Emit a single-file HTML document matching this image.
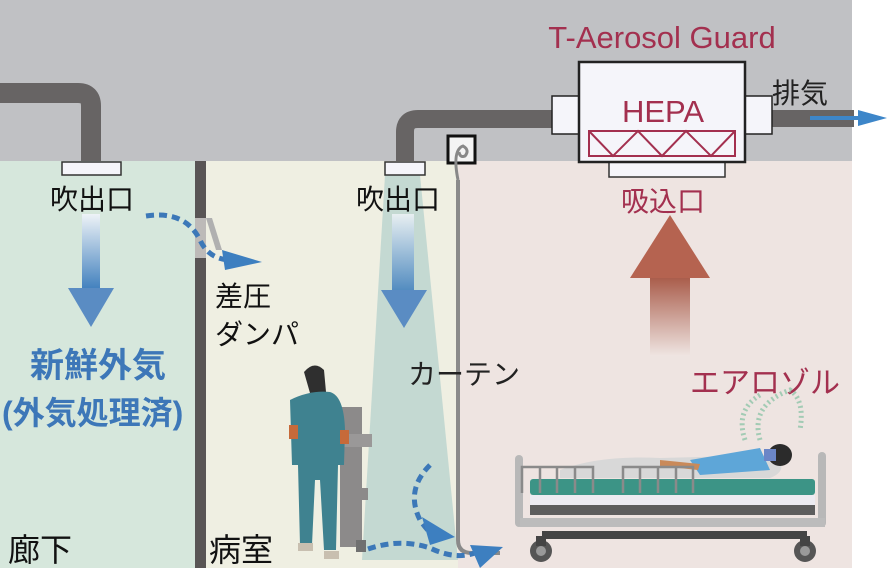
<!DOCTYPE html>
<html><head><meta charset="utf-8"><style>
html,body{margin:0;padding:0;background:#fff}
svg{display:block}
text{font-family:"Liberation Sans","Noto Sans CJK JP",sans-serif}
</style></head><body>
<svg width="887" height="570" viewBox="0 0 887 570" xmlns="http://www.w3.org/2000/svg">
<defs>
<linearGradient id="bl" x1="0" y1="0" x2="0" y2="1"><stop offset="0" stop-color="#eef3f7"/><stop offset="1" stop-color="#3f7fbd"/></linearGradient>
<linearGradient id="rd" x1="0" y1="1" x2="0" y2="0"><stop offset="0" stop-color="#efe5e2"/><stop offset="1" stop-color="#a85a48"/></linearGradient>
</defs>
<rect x="0" y="0" width="852" height="161" fill="#c0c1c4"/>
<rect x="0" y="161" width="195" height="407" fill="#d6e7dc"/>
<rect x="206" y="161" width="252" height="407" fill="#efefe2"/>
<rect x="458" y="161" width="394" height="407" fill="#eee4e1"/>
<rect x="195" y="161" width="11" height="407" fill="#595555"/>
<rect x="195" y="218" width="11" height="40" fill="#bdbab8"/>
<polygon points="206,218 212,218 222,250 216,250" fill="#b0b0b0"/>
<path d="M0,93 H78 Q91,93 91,106 V161" fill="none" stroke="#676464" stroke-width="20"/>
<rect x="62" y="162" width="59" height="13" fill="#f5f5fa" stroke="#333" stroke-width="1.5"/>
<path d="M405,161 V132 Q405,119 418,119 H560" fill="none" stroke="#676464" stroke-width="18"/>
<polygon points="385,175 420,175 458,560 362,560" fill="#bcd5cf" opacity="0.85"/>
<rect x="385" y="162" width="40" height="13" fill="#f5f5fa" stroke="#333" stroke-width="1.5"/>
<rect x="770" y="110" width="84" height="17" fill="#676464"/>
<line x1="810" y1="118" x2="870" y2="118" stroke="#3d86c9" stroke-width="4"/>
<polygon points="858,110 887,118 858,126" fill="#3d86c9"/>
<rect x="552" y="96" width="27" height="38" fill="#f5f5fa" stroke="#222" stroke-width="1.5"/>
<rect x="745" y="96" width="27" height="38" fill="#f5f5fa" stroke="#222" stroke-width="1.5"/>
<rect x="609" y="161" width="116" height="16" fill="#f5f5fa" stroke="#333" stroke-width="1.5"/>
<rect x="579" y="62" width="166" height="100" fill="#f5f5fa" stroke="#222" stroke-width="2.5"/>
<rect x="589" y="131" width="146" height="25" fill="none" stroke="#a3304f" stroke-width="2"/>
<polyline points="589,131 613,156 638,131 662,156 686,131 711,156 735,131" fill="none" stroke="#a3304f" stroke-width="2"/>
<text x="663" y="122" font-size="31" fill="#a3304f" text-anchor="middle">HEPA</text>
<text x="662" y="48" font-size="31" fill="#a3304f" text-anchor="middle">T-Aerosol Guard</text>
<text x="772" y="103" font-size="28" fill="#222">排気</text>
<text x="663" y="211" font-size="28" fill="#a3304f" text-anchor="middle">吸込口</text>
<rect x="448" y="136" width="27" height="27" fill="#f4f4f4" stroke="#111" stroke-width="3"/>
<path d="M458,180 Q452,150 463,146 Q470,150 465,156 Q460,158 459,152" fill="none" stroke="#888" stroke-width="3"/>
<path d="M458,180 V540 Q458,553 472,553 H500" fill="none" stroke="#8a8a8a" stroke-width="4"/>
<text x="50" y="209" font-size="28" fill="#111">吹出口</text>
<text x="356" y="209" font-size="28" fill="#111">吹出口</text>
<text x="215" y="306" font-size="28" fill="#111">差圧</text>
<text x="215" y="344" font-size="28" fill="#111">ダンパ</text>
<text x="408" y="384" font-size="28" fill="#222">カーテン</text>
<text x="690" y="393" font-size="30" fill="#a3304f">エアロゾル</text>
<text x="30" y="377" font-size="34" font-weight="bold" fill="#3d77b8">新鮮外気</text>
<text x="2" y="424" font-size="32" font-weight="bold" fill="#3d77b8">(外気処理済)</text>
<text x="8" y="561" font-size="32" fill="#111">廊下</text>
<text x="209" y="561" font-size="32" fill="#111">病室</text>
<rect x="82" y="214" width="18" height="76" fill="url(#bl)"/>
<polygon points="68,288 114,288 91,327" fill="#5a8cc3"/>
<rect x="392" y="214" width="22" height="76" fill="url(#bl)" opacity="0.85"/>
<polygon points="381,290 427,290 404,328" fill="#5a8cc3"/>
<rect x="650" y="276" width="40" height="80" fill="url(#rd)"/>
<polygon points="670,215 710,278 630,278" fill="#b56350"/>
<path d="M146,216 Q185,210 200,240 Q208,258 228,260" fill="none" stroke="#3c78b8" stroke-width="5" stroke-dasharray="8,5"/>
<polygon points="222,250 262,262 225,270" fill="#3d7fc0"/>
<path d="M430,465 Q405,490 420,520 Q430,535 440,540" fill="none" stroke="#3c78b8" stroke-width="5" stroke-dasharray="8,5"/>
<polygon points="422,517 455,537 430,545" fill="#3d7fc0"/>
<path d="M368,549 Q400,538 430,548 Q455,560 475,553" fill="none" stroke="#3c78b8" stroke-width="5" stroke-dasharray="8,5"/>
<polygon points="470,545 503,547 480,568" fill="#3d7fc0"/>
<rect x="340" y="407" width="22" height="140" fill="#8c8a8a"/>
<rect x="340" y="434" width="32" height="13" fill="#9a9898"/>
<rect x="356" y="488" width="12" height="12" fill="#8c8a8a"/>
<rect x="356" y="540" width="10" height="12" fill="#707070"/>
<path d="M304,372 Q314,360 324,370 L326,392 L310,393 Z" fill="#2f2f2f"/>
<path d="M290,400 Q310,390 330,392 Q344,396 345,430 L344,465 L338,465 L336,550 L324,550 L320,480 L315,480 L312,545 L300,545 L298,465 L292,465 Z" fill="#3f8290"/>
<rect x="289" y="425" width="9" height="14" fill="#c66a3a"/>
<rect x="340" y="430" width="9" height="14" fill="#c66a3a"/>
<rect x="298" y="543" width="15" height="8" fill="#c8bfb0"/>
<rect x="324" y="551" width="15" height="8" fill="#c8bfb0"/>
<path d="M745,440 Q735,410 760,395 M760,440 Q750,405 790,390 Q805,400 800,430" fill="none" stroke="#8fc4a9" stroke-width="5" stroke-dasharray="2,3" opacity="0.8"/>
<rect x="515" y="455" width="8" height="72" rx="4" fill="#b8b8b8"/>
<rect x="818" y="452" width="8" height="75" rx="4" fill="#b8b8b8"/>
<path d="M560,470 Q600,455 660,458 L775,455 Q790,470 770,478 L560,478 Z" fill="#d8d8d8"/>
<path d="M690,460 L760,448 L770,470 L700,475 Z" fill="#5ea6d8"/>
<path d="M660,460 L700,464 L698,470 L660,466 Z" fill="#c98a5a"/>
<ellipse cx="780" cy="455" rx="12" ry="11" fill="#2b2b2b"/>
<rect x="764" y="449" width="12" height="12" fill="#6b86c7"/>
<rect x="530" y="479" width="285" height="16" rx="3" fill="#3c9486"/>
<rect x="530" y="495" width="285" height="10" fill="#ecebf1"/>
<rect x="530" y="505" width="285" height="10" fill="#5d5d5d"/>
<rect x="520" y="518" width="305" height="9" fill="#bcbcbc"/>
<rect x="542" y="531" width="265" height="8" fill="#444"/>
<g fill="none" stroke="#8a8a8a" stroke-width="2.5">
<path d="M522,493 V467 H593 V493 M540,467V493 M557,467V493 M575,467V493"/>
<path d="M623,493 V467 H693 V493 M640,467V493 M658,467V493 M676,467V493"/>
</g>
<circle cx="541" cy="551" r="11" fill="#555"/><circle cx="541" cy="551" r="5" fill="#999"/>
<circle cx="805" cy="551" r="11" fill="#555"/><circle cx="805" cy="551" r="5" fill="#999"/>
<rect x="536" y="536" width="10" height="10" fill="#444"/>
<rect x="800" y="536" width="10" height="10" fill="#444"/>
</svg>
</body></html>
